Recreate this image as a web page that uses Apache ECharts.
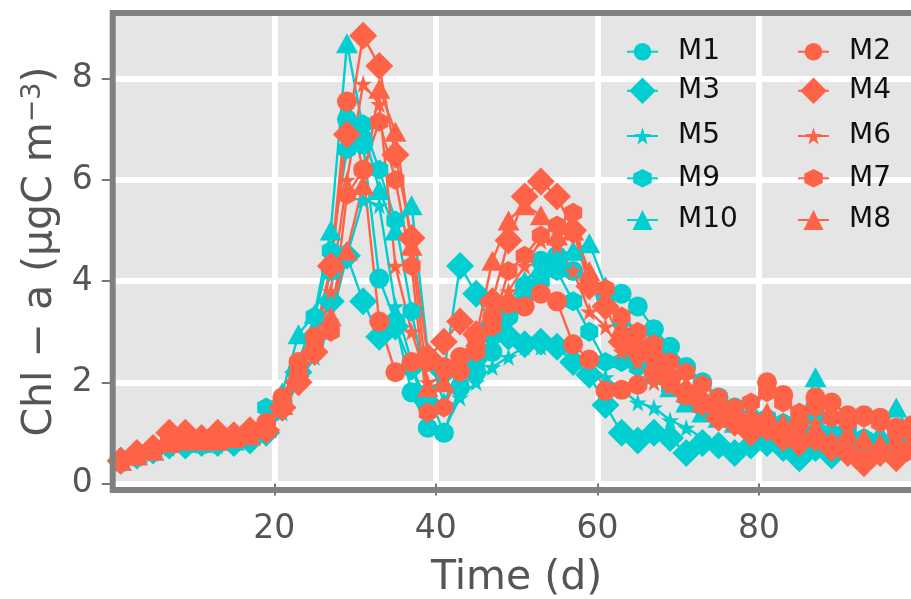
<!DOCTYPE html>
<html>
<head>
<meta charset="utf-8">
<title>Chl-a time series</title>
<script src="https://cdn.jsdelivr.net/npm/echarts@6/dist/echarts.min.js"></script>
<style>
  html, body { margin: 0; padding: 0; background: #ffffff; }
  #chart { width: 911px; height: 599px; }
</style>
</head>
<body>
<div id="chart"></div>
<script>
// Sampling days (every second day)
const days = [1,3,5,7,9,11,13,15,17,19,21,23,25,27,29,31,33,35,37,39,
              41,43,45,47,49,51,53,55,57,59,61,63,65,67,69,71,73,75,77,79,
              81,83,85,87,89,91,93,95,97,99];

// Chl-a concentration per model run (ugC m^-3)
const M1 = [0.45,0.55,0.65,0.75,0.8,0.8,0.8,0.85,0.9,1.1,
            1.5,2.1,2.8,4.2,7.2,6.7,4.05,3.2,1.8,1.1,
            1.0,1.9,2.2,2.6,3.3,3.9,4.4,4.5,4.2,3.9,
            3.7,3.75,3.5,3.05,2.7,2.3,2.0,1.7,1.5,1.3,
            1.2,1.0,0.9,1.0,0.8,0.75,0.7,0.65,0.7,0.7];
const M3 = [0.45,0.55,0.65,0.75,0.75,0.8,0.8,0.8,0.85,1.0,
            1.5,2.2,2.9,3.6,4.5,3.6,2.9,3.1,2.3,1.6,
            2.2,4.3,3.75,3.1,2.9,2.75,2.8,2.7,2.4,2.15,
            1.55,1.0,0.85,1.0,0.9,0.6,0.8,0.75,0.6,0.75,
            0.8,0.7,0.5,0.7,0.55,0.8,0.6,0.75,0.6,0.7];
const M5 = [0.4,0.5,0.6,0.7,0.75,0.75,0.75,0.8,0.85,1.0,
            1.4,2.0,2.5,3.2,4.5,5.6,5.5,3.5,2.4,1.1,
            1.05,1.7,2.0,2.3,2.5,2.7,2.7,2.75,2.5,2.3,
            2.1,1.85,1.6,1.5,1.25,1.1,0.9,0.8,0.6,0.8,
            0.9,0.75,0.7,0.8,0.65,0.7,0.6,0.65,0.7,0.6];
const M9 = [0.45,0.55,0.6,0.75,0.8,0.8,0.8,0.85,0.9,1.5,
            1.6,2.4,3.3,4.6,6.6,7.1,6.2,5.2,3.4,1.8,
            1.0,1.9,2.4,2.9,3.3,3.7,4.0,4.2,3.6,3.0,
            2.4,2.4,2.3,2.1,1.9,1.7,1.5,1.3,1.4,1.2,
            1.3,1.2,1.1,1.3,1.0,1.1,0.9,0.8,0.9,0.75];
const M10 = [0.45,0.6,0.65,0.8,0.8,0.8,0.85,0.85,0.95,1.15,
             1.8,2.95,3.35,5.0,8.7,7.0,5.8,5.0,5.5,2.6,
             1.6,2.3,2.6,3.2,3.6,4.0,4.3,4.5,4.6,4.75,
             3.9,3.3,2.6,2.2,1.9,1.6,1.4,1.3,1.2,1.3,
             1.2,1.0,1.1,2.1,1.1,1.0,0.9,1.0,1.5,0.9];
const M2 = [0.45,0.55,0.65,0.8,0.85,0.85,0.85,0.9,0.95,1.2,
            1.7,2.4,2.9,4.3,7.55,6.2,3.2,2.2,2.4,2.4,
            2.3,2.5,2.9,3.3,3.55,3.5,3.75,3.6,2.75,2.45,
            1.83,1.85,1.95,2.2,2.0,1.75,1.6,1.45,1.3,1.25,
            2.0,1.75,1.2,1.7,1.6,1.35,1.35,1.3,1.1,1.15];
const M4 = [0.45,0.6,0.7,1.0,1.0,0.9,1.0,0.95,1.05,1.05,
            1.5,2.0,2.6,4.3,6.9,8.85,8.25,6.5,4.85,2.5,
            2.8,3.2,2.95,3.6,4.8,5.67,5.97,5.67,5.0,3.9,
            3.5,2.8,2.6,2.5,2.1,1.8,1.6,1.3,1.2,1.0,
            1.1,0.9,0.8,0.9,0.7,0.6,0.4,0.6,0.5,0.7];
const M6 = [0.45,0.55,0.65,0.8,0.85,0.85,0.85,0.9,0.95,1.1,
            1.6,2.3,2.7,3.8,6.0,7.9,7.5,4.3,3.0,2.0,
            2.1,2.5,2.8,3.2,3.8,4.3,4.8,4.7,4.2,3.4,
            3.1,2.6,2.4,2.0,1.9,1.7,1.6,1.4,1.3,1.2,
            1.3,1.1,1.0,1.2,0.9,0.8,0.7,0.6,0.7,0.6];
const M7 = [0.45,0.6,0.7,0.85,0.85,0.85,0.9,0.9,1.0,1.15,
            1.6,2.2,2.7,3.0,5.7,6.2,7.15,6.0,4.3,1.4,
            1.5,2.2,2.6,3.1,4.2,4.5,4.9,5.1,5.35,3.9,
            3.85,3.3,3.0,2.75,2.4,2.2,1.95,1.7,1.5,1.6,
            1.8,1.6,1.4,1.5,1.3,1.2,1.3,1.2,1.0,1.0];
const M8 = [0.45,0.55,0.65,0.8,0.85,0.85,0.85,0.9,0.95,1.1,
            1.55,2.3,2.8,3.3,4.6,5.9,7.8,6.95,4.7,1.9,
            2.0,2.4,2.9,4.4,5.2,5.5,5.3,4.9,5.0,4.2,
            3.6,3.1,2.9,2.3,2.2,1.8,1.6,1.5,1.3,1.2,
            1.4,1.2,1.0,1.1,0.8,1.0,0.9,0.8,0.9,0.7];

// Tick labels
const xTicks = [20, 40, 60, 80];
const yTicks = [0, 2, 4, 6, 8];

// Drawing order: cyan runs first, red runs on top
const runs = [
  ['M1', M1], ['M3', M3], ['M5', M5], ['M9', M9], ['M10', M10],
  ['M2', M2], ['M4', M4], ['M6', M6], ['M7', M7], ['M8', M8]
];

const CYAN = '#00CED1';
const RED = '#FF6347';
const FONT = 'DejaVu Sans';

const STAR = 'path://M50,0 L61.8,35.1 L98.9,35.1 L68.8,56.8 L79.4,91 L50,70 L20.6,91 L31.2,56.8 L1.1,35.1 L38.2,35.1 Z';
const HEX = 'path://M50,0 L93.3,25 L93.3,75 L50,100 L6.7,75 L6.7,25 Z';

// marker style per run: colour, symbol, size
const look = {
  M1:  { color: CYAN, symbol: 'circle',   size: 20 },
  M3:  { color: CYAN, symbol: 'diamond',  size: 28 },
  M5:  { color: CYAN, symbol: STAR,       size: 18 },
  M9:  { color: CYAN, symbol: HEX,        size: [18, 20] },
  M10: { color: CYAN, symbol: 'triangle', size: [22, 20] },
  M2:  { color: RED,  symbol: 'circle',   size: 20 },
  M4:  { color: RED,  symbol: 'diamond',  size: 28 },
  M6:  { color: RED,  symbol: STAR,       size: 18 },
  M7:  { color: RED,  symbol: HEX,        size: [18, 20] },
  M8:  { color: RED,  symbol: 'triangle', size: [22, 20] }
};

const GRID = { left: 112.7, right: -9.5, top: 13, bottom: 109 };

// legend: two columns, five rows
const legendCols = [
  { left: 626, names: ['M1', 'M3', 'M5', 'M9', 'M10'] },
  { left: 797, names: ['M2', 'M4', 'M6', 'M7', 'M8'] }
];
const legendRows = [51.7, 93.3, 136, 178.3, 220];
const legendIconH = { circle: 22, diamond: 33, star: 21, hex: 23, triangle: 25 };
function iconKey(sym) {
  if (sym === STAR) return 'star';
  if (sym === HEX) return 'hex';
  return sym;
}

const legends = [];
legendCols.forEach(col => {
  col.names.forEach((name, r) => {
    const h = legendIconH[iconKey(look[name].symbol)];
    const boxH = Math.max(h, 28);
    legends.push({
      data: [name],
      left: col.left,
      top: legendRows[r] - boxH / 2,
      orient: 'vertical',
      padding: 0,
      itemWidth: 31,
      itemHeight: h,
      selectedMode: false,
      textStyle: { fontFamily: FONT, fontSize: 28, color: '#111111', padding: [0, 0, 0, 15] }
    });
  });
});

const series = runs.map(([name, vals]) => ({
  name: name,
  type: 'line',
  data: days.map((d, i) => [d, vals[i]]),
  symbol: look[name].symbol,
  symbolSize: look[name].size,
  showAllSymbol: true,
  lineStyle: { color: look[name].color, width: 2.4 },
  itemStyle: { color: look[name].color },
  emphasis: { disabled: true },
  animation: false
}));

const chart = echarts.init(document.getElementById('chart'), null, { renderer: 'canvas' });
chart.setOption({
  animation: false,
  backgroundColor: '#ffffff',
  grid: {
    left: GRID.left, right: GRID.right, top: GRID.top, bottom: GRID.bottom,
    containLabel: false,
    outerBoundsMode: 'none',
    show: true, backgroundColor: '#e5e5e5', borderWidth: 0
  },
  legend: legends,
  xAxis: {
    type: 'value',
    min: 0, max: 100, interval: 20,
    name: 'Time (d)',
    nameLocation: 'middle',
    nameGap: 68,
    nameTextStyle: { fontFamily: FONT, fontSize: 41, color: '#555555' },
    axisLine: { show: false },
    axisTick: { show: true, length: 12, customValues: xTicks, lineStyle: { color: '#555555', width: 1.6 } },
    axisLabel: { customValues: xTicks, margin: 23, fontFamily: FONT, fontSize: 33, color: '#555555' },
    splitLine: { show: true, lineStyle: { color: '#ffffff', width: 6 } }
  },
  yAxis: {
    type: 'value',
    min: -0.13, max: 9.3,
    name: 'Chl − a (μgC m{sup|−3})',
    nameLocation: 'middle',
    nameGap: 52,
    nameTextStyle: {
      fontFamily: FONT, fontSize: 41, color: '#555555',
      rich: { sup: { fontFamily: FONT, fontSize: 27, color: '#555555', verticalAlign: 'top' } }
    },
    axisLine: { show: false },
    axisTick: { show: true, length: 11, customValues: yTicks, lineStyle: { color: '#555555', width: 1.6 } },
    axisLabel: { customValues: yTicks, margin: 20, fontFamily: FONT, fontSize: 33, color: '#555555' },
    splitLine: { show: true, lineStyle: { color: '#ffffff', width: 6 } }
  },
  graphic: [{
    type: 'rect',
    silent: true,
    z: 100,
    shape: {
      x: GRID.left, y: GRID.top,
      width: 911 - GRID.left - GRID.right,
      height: 599 - GRID.top - GRID.bottom
    },
    style: { fill: null, stroke: '#808080', lineWidth: 6 }
  }],
  series: series
});
</script>
</body>
</html>
